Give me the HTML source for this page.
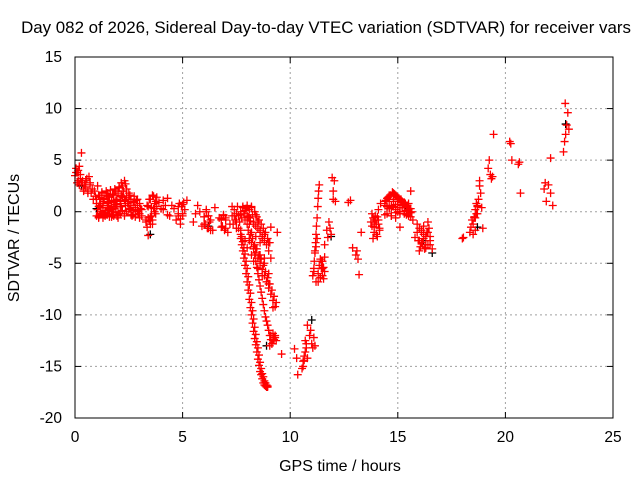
<!DOCTYPE html>
<html><head><meta charset="utf-8"><style>
body{margin:0;background:#fff;}
svg{display:block;font-family:"Liberation Sans",sans-serif;}
</style></head><body>
<svg id="chart" width="640" height="480">
<text x="326" y="33" font-size="16.9" text-anchor="middle" fill="#000">Day 082 of 2026, Sidereal Day-to-day VTEC variation (SDTVAR) for receiver vars</text>
<g id="grid"></g>
<g id="ticks"></g>
<g id="marks"></g>
<rect x="75" y="57" width="538" height="361" fill="none" stroke="#000" stroke-width="1"/>
<text x="340" y="471" font-size="16" text-anchor="middle">GPS time / hours</text>
<text transform="translate(19,238) rotate(-90)" font-size="16" text-anchor="middle">SDTVAR / TECUs</text>
</svg>
<script>
const xTicks=[0,5,10,15,20,25];
const yTicks=[15,10,5,0,-5,-10,-15,-20];
const redT=[0,0.05,0.1,0.15,0.2,0.25,0.3,0.3,0.35,0.4,0.45,0.5,0.55,0.6,0.65,0.7,0.75,0.8,0.85,0.9,0.95,1.0,1.05,1.1,1.15,1.2,1.25,1.3,1.35,1.4,1.45,1.5,1.55,1.6,1.65,1.7,1.75,1.8,1.85,1.9,1.95,2.0,2.05,2.1,2.15,2.2,2.25,2.3,2.35,2.4,1.1,1.2,1.3,1.4,1.5,1.6,1.7,1.8,1.9,2.0,2.1,2.2,2.3,1.15,1.35,1.55,1.75,1.95,2.15,2.35,
2.5,2.6,2.7,2.8,2.9,3.0,3.1,2.55,2.75,2.95,3.3,3.4,3.5,3.6,3.7,3.8,3.35,3.45,3.55,3.65,3.75,3.4,3.6,3.5,3.9,4.0,4.1,4.2,4.3,4.4,4.5,4.1,4.3,4.6,4.7,4.8,4.9,5.0,5.1,5.2,4.8,5.0,5.5,5.6,5.7,5.8,5.9,6.0,6.1,6.2,6.3,6.4,6.0,6.2,6.5,6.7,6.8,6.9,7.0,7.1,7.2,6.8,7.0,7.3,7.4,7.5,7.6,7.7,7.8,7.9,8.0,8.1,8.2,7.5,7.7,7.9,8.1,8.3,8.4,8.5,8.6,8.7,8.8,
7.7,7.75,7.8,7.85,7.9,7.95,8.0,8.05,8.1,8.15,8.2,8.25,8.3,8.35,8.4,8.45,8.5,8.55,8.6,8.65,8.7,8.75,8.8,8.85,8.9,8.95,9.0,
8.3,8.35,8.4,8.45,8.5,8.55,8.6,8.65,8.7,8.75,8.8,8.85,8.9,8.95,9.0,9.05,9.1,9.15,9.2,9.25,9.3,9.35,9.4,
8.0,8.1,8.2,8.3,8.4,8.5,8.6,8.7,8.8,8.9,9.0,9.1,8.2,8.4,8.6,8.8,9.0,9.2,
9.6,10.2,10.3,10.35,10.55,10.6,10.65,10.7,10.75,10.8,10.9,10.95,11.0,11.05,11.1,11.15,11.2,
11.05,11.1,11.12,11.15,11.18,11.2,11.22,11.25,11.28,11.3,11.32,11.35,11.3,11.4,11.45,11.5,11.55,11.6,11.4,11.5,11.6,11.7,11.75,11.8,11.85,11.9,11.95,12.0,12.05,12.1,12.0,
12.7,12.8,12.9,13.05,13.1,13.15,13.2,13.3,
13.75,13.8,13.85,13.9,13.95,14.0,14.05,14.1,14.15,14.2,13.9,14.1,
14.4,14.5,14.6,14.7,14.8,14.9,15.0,15.1,15.2,15.3,15.4,15.5,15.6,15.7,14.5,14.7,14.9,15.1,15.3,15.5,14.6,14.8,15.0,15.2,15.4,15.6,14.9,15.0,15.1,
15.8,15.9,16.0,16.1,16.2,16.3,16.4,16.5,16.6,16.0,16.2,16.4,16.1,16.3,16.5,
18.0,18.05,18.35,18.4,18.45,18.5,18.55,18.6,18.65,18.7,18.75,18.8,18.85,18.9,18.95,18.6,18.7,18.8,
19.2,19.25,19.3,19.35,19.4,19.45,20.2,20.25,20.3,20.6,20.65,20.7,21.8,21.9,22.0,22.1,22.2,21.85,22.1,
22.7,22.75,22.8,22.85,22.9,22.95,22.78,22.88];
const redV=[3.5,4.2,3.8,3.0,4.4,3.2,5.7,2.8,3.0,2.2,2.6,2.4,3.2,2.0,3.4,2.8,1.8,2.2,1.2,2.0,1.5,0.8,2.5,0.5,1.4,-0.2,1.8,0.6,1.2,-0.4,1.6,0.8,0.2,1.4,0.3,1.0,-0.3,1.6,0.5,2.0,1.2,0.0,2.3,1.0,2.8,1.5,2.0,3.0,0.6,2.2,-0.6,0.4,1.0,-0.1,1.8,0.3,-0.5,1.1,0.7,-0.3,0.8,1.4,-0.2,0.6,-0.3,0.9,0.2,-0.4,0.5,1.2,
1.0,0.6,-0.3,0.4,1.2,-0.6,0.2,1.6,1.0,0.0,-0.8,0.5,1.2,1.6,0.8,1.4,-1.5,-0.9,-0.4,0.3,-0.2,-2.3,-1.2,-0.5,0.9,0.3,1.1,0.6,1.3,-0.4,0.6,0.2,-0.3,0.3,-0.8,0.5,-1.2,-0.4,0.2,1.1,-0.2,0.7,-1.0,-0.2,0.6,0.0,-1.4,-0.5,0.2,-1.6,-0.8,-1.8,-1.2,-0.4,0.4,-0.6,-1.5,-0.4,-0.8,-2.0,-1.2,-0.7,-1.6,0.5,-0.4,-1.0,-1.6,-0.3,0.5,0.1,-0.4,-1.2,0.4,-0.2,-2.2,-2.8,-0.6,-1.2,-0.3,-1.0,-1.8,-2.6,
-2.2,-2.6,-3.2,-3.8,-4.5,-5.2,-6.0,-6.8,-7.6,-8.5,-9.3,-10.0,-10.8,-11.6,-12.3,-12.9,-13.6,-14.3,-14.9,-15.5,-15.8,-16.2,-16.6,-16.8,-16.9,-17.0,-17.0,
-3.0,-3.6,-4.2,-4.8,-5.4,-6.0,-6.6,-7.2,-7.8,-8.4,-9.0,-9.6,-10.2,-10.6,-11.0,-11.5,-12.0,-12.4,-12.8,-12.5,-12.4,-12.2,-12.5,
-2.0,-3.5,-2.8,-4.2,-4.8,-3.6,-5.5,-4.2,-6.2,-5.0,-6.8,-7.0,-1.5,-2.0,-2.4,-3.0,-4.5,-6.0,
-9.3,-13.8,-13.3,-14.2,-15.8,-15.2,-14.5,-14.0,-12.5,-12.8,-11.0,-12.0,-11.5,-12.8,-13.2,-12.2,-13.0,
-6.8,-6.2,-5.5,-4.8,-3.8,-3.0,-2.2,-1.4,-0.6,0.5,1.3,2.0,2.6,-6.8,-6.4,-5.5,-4.8,-6.5,-5.8,-4.6,-5.5,-3.2,-1.8,-2.5,-1.0,-1.6,-2.2,3.3,2.0,3.0,1.0,
1.2,0.9,1.1,-3.5,-4.2,-3.8,-4.6,-6.1,
-2.0,-1.0,-0.2,-2.6,-1.5,-0.8,-2.2,-0.5,-1.2,-1.8,0.8,-1.0,
0.2,1.0,1.3,1.5,0.4,1.8,1.6,1.4,1.2,1.0,0.8,0.5,0.2,-0.5,-0.8,0.5,-0.4,0.7,-0.2,0.9,0.8,0.3,1.2,0.0,0.6,-0.3,2.0,-0.6,1.0,
-1.5,-2.5,-2.0,-2.8,-3.0,-2.2,-3.2,-2.0,-2.4,-3.6,-3.8,-2.6,-1.0,-1.8,-3.5,
-3.2,-2.6,-2.5,-2.0,-1.5,-0.8,-2.2,-0.5,0.2,0.8,0.5,1.2,2.5,1.8,0.4,-1.6,-0.6,-0.2,
3.0,4.2,5.0,3.6,3.2,3.4,7.5,6.8,6.6,5.0,4.6,4.8,1.8,2.2,1.0,2.6,1.8,0.6,2.8,
5.2,5.8,6.8,7.5,8.4,9.6,8.0,10.5];
// additional readings in the densest clusters
const extraT=[1.0,1.05,1.1,1.15,1.2,1.25,1.3,1.35,1.4,1.45,1.5,1.55,1.6,1.65,1.7,1.75,1.8,1.85,1.9,1.95,2.0,2.05,2.1,2.15,2.2,2.25,2.3,2.35,2.4,2.45,2.5,2.55,2.6,2.65,2.7,2.75,2.8,2.85,2.9,2.95,3.0,3.05,3.1,
1.0,1.1,1.2,1.3,1.4,1.5,1.6,1.7,1.8,1.9,2.0,2.1,2.2,2.3,2.4,2.5,2.6,2.7,2.8,2.9,3.0,
3.3,3.35,3.4,3.45,3.5,3.55,3.6,3.65,3.7,3.75,3.8,4.8,4.85,4.9,4.95,5.0,5.05,6.0,6.05,6.1,6.15,6.2,6.25,6.3,6.8,6.85,6.9,6.95,7.0,
7.3,7.35,7.4,7.45,7.5,7.55,7.6,7.65,7.7,7.75,7.8,7.85,7.9,7.95,8.0,8.05,8.1,8.15,8.2,8.25,8.3,8.35,8.4,8.45,8.5,8.55,8.6,8.65,8.7,8.75,8.8,8.85,8.9,8.95,9.0,9.05,9.1,
7.7,7.75,7.8,7.85,7.9,7.95,8.0,8.05,8.1,8.15,8.2,8.25,8.3,8.35,8.4,8.45,8.5,8.55,8.6,8.65,8.7,8.75,8.8,8.85,8.9,8.95,9.05,9.1,9.15,9.2,9.25,9.3,
8.0,8.05,8.1,8.15,8.2,8.25,8.3,8.35,8.4,8.45,8.5,8.55,8.6,8.65,8.7,8.75,8.8,8.85,8.9,8.95,9.0,9.05,9.1,9.15,9.2,9.25,9.3,9.35,
14.4,14.45,14.5,14.55,14.6,14.65,14.7,14.75,14.8,14.85,14.9,14.95,15.0,15.05,15.1,15.15,15.2,15.25,15.3,15.35,15.4,15.45,15.5,15.55,15.6,15.65,
14.4,14.5,14.6,14.7,14.8,14.9,15.0,15.1,15.2,15.3,15.4,15.5,15.6,
15.9,15.95,16.0,16.05,16.1,16.15,16.2,16.25,16.3,16.35,16.4,16.45,16.5,
13.8,13.85,13.9,13.95,14.0,14.05,14.1,14.15,11.3,11.35,11.4,11.45,11.5,11.55,11.6,11.1,11.15,11.2,11.25,10.6,10.65,10.7,10.75,10.8,
0.05,0.1,0.15,0.2,0.25,0.4,0.5,0.6,0.7,18.5,18.55,18.6,18.65,18.7];
const extraV=[1.2,0.2,1.6,-0.3,0.8,1.9,0.4,1.3,-0.1,2.0,0.6,1.5,-0.2,2.1,0.9,1.7,0.3,2.2,1.1,0.7,1.8,2.4,0.5,1.6,2.5,2.0,1.1,2.7,1.4,0.8,1.8,0.3,1.2,-0.4,0.9,1.5,0.2,1.1,0.6,-0.2,0.8,0.3,-0.4,
-0.4,-0.5,0.0,-0.6,0.1,-0.3,-0.5,0.2,-0.4,-0.1,-0.6,-0.2,0.1,-0.4,0.0,0.2,-0.3,0.1,-0.5,0.0,-0.2,
-1.0,0.6,-0.6,1.2,-1.2,0.4,-0.8,1.5,0.0,1.0,0.5,-0.4,0.8,-0.7,0.5,-0.2,0.9,-0.5,-1.2,0.0,-1.6,-0.4,-1.0,-1.8,-0.8,-1.4,-0.3,-1.8,-0.6,
-0.4,-1.2,0.2,-0.8,-1.6,0.5,-0.4,-1.0,0.0,-0.6,0.4,-0.2,-0.8,0.3,0.6,-0.5,0.2,-0.9,0.5,-0.3,-1.0,0.0,-1.4,-0.5,-1.6,-0.8,-2.0,-1.2,-2.4,-1.6,-2.8,-2.0,-3.2,-2.6,-3.8,-3.0,-4.5,
-1.8,-2.4,-2.9,-3.5,-4.1,-4.8,-5.5,-6.3,-7.1,-7.9,-8.8,-9.6,-10.4,-11.2,-11.9,-12.6,-13.2,-13.9,-14.6,-15.2,-15.7,-16.0,-16.4,-16.6,-16.8,-16.9,-13.0,-12.0,-12.8,-11.8,-12.2,-12.0,
-1.2,-1.8,-2.6,-2.2,-3.0,-2.6,-3.4,-3.2,-4.0,-3.6,-4.5,-4.2,-5.0,-4.6,-5.6,-5.2,-6.2,-5.8,-6.8,-6.4,-7.4,-7.0,-8.0,-7.6,-8.6,-8.2,-9.2,-8.8,
0.6,1.1,-0.2,1.4,0.3,1.6,-0.4,1.9,0.5,1.7,-0.1,1.5,0.7,1.3,0.0,1.2,0.4,0.9,-0.2,0.8,0.1,0.6,-0.4,0.3,-0.1,0.0,
-0.3,0.5,1.0,0.6,1.2,0.2,1.0,0.4,0.9,0.0,0.6,-0.2,0.3,
-1.2,-2.8,-1.6,-3.4,-2.0,-3.0,-1.4,-3.6,-2.4,-2.0,-3.2,-1.6,-2.8,
-1.4,-0.6,-2.0,-0.4,-1.2,-2.4,-0.8,-1.6,-6.0,-5.2,-6.4,-4.8,-6.2,-5.4,-4.4,-5.8,-4.0,-3.4,-2.6,-15.0,-14.4,-13.6,-13.2,-14.2,
3.8,2.8,4.0,2.6,3.6,2.0,3.0,1.8,2.6,-1.2,-0.6,-1.8,-0.2,0.6];
const blackT=[0.3,1.0,3.5,6.2,8.9,11.0,11.9,15.5,16.2,16.6,18.7,22.8];
const blackV=[2.5,0.3,-2.2,-1.4,-13.0,-10.5,-2.4,0.3,-2.8,-4.0,-1.5,8.5];

const X0=75,X1=613,Y0=418,Y1=57;
const xs=t=>X0+(t-0)/(25-0)*(X1-X0);
const ys=v=>Y0-(v-(-20))/(15-(-20))*(Y0-Y1);
const NS="http://www.w3.org/2000/svg";
const grid=document.getElementById('grid'),ticks=document.getElementById('ticks'),marks=document.getElementById('marks');
function mk(tag,attrs,parent){const e=document.createElementNS(NS,tag);for(const k in attrs)e.setAttribute(k,attrs[k]);parent.appendChild(e);return e;}
xTicks.forEach(t=>{const x=xs(t);
 if(t>0&&t<25){const g=mk('line',{x1:x,x2:x,y1:Y1,y2:Y0,stroke:'#a0a0a0','stroke-dasharray':'2,3'},grid);
 
 }
 mk('line',{x1:x,x2:x,y1:Y0,y2:Y0-6,stroke:'#000'},ticks);
 mk('line',{x1:x,x2:x,y1:Y1,y2:Y1+6,stroke:'#000'},ticks);
 const l=mk('text',{x:x,y:Y0+24,'font-size':'15.5','text-anchor':'middle'},ticks);l.textContent=t;
 
 });
yTicks.forEach(v=>{const y=ys(v);
 if(v>-20&&v<15){const g=mk('line',{x1:X0,x2:X1,y1:y,y2:y,stroke:'#a0a0a0','stroke-dasharray':'2,3'},grid);
 
 }
 mk('line',{x1:X0,x2:X0+6,y1:y,y2:y,stroke:'#000'},ticks);
 mk('line',{x1:X1,x2:X1-6,y1:y,y2:y,stroke:'#000'},ticks);
 const l=mk('text',{x:X0-13,y:y+5,'font-size':'15.5','text-anchor':'end'},ticks);l.textContent=v;
 
 });
function plus(t,v,c){const x=xs(t),y=ys(v);
 const p=mk('path',{d:`M${x-4},${y}h8M${x},${y-4}v8`,stroke:c,'stroke-width':'1.3',fill:'none'},marks);
 
 }
blackT.forEach((t,i)=>plus(t,blackV[i],'#000'));
redT.forEach((t,i)=>plus(t,redV[i],'#ff0000'));
extraT.forEach((t,i)=>plus(t,extraV[i],'#ff0000'));
</script>
</body></html>
